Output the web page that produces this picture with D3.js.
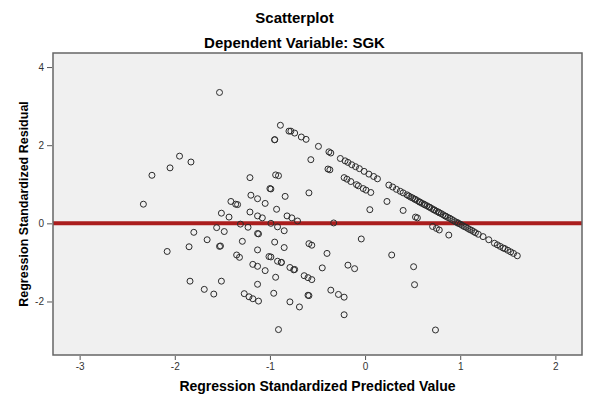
<!DOCTYPE html>
<html lang="en">
<head>
<meta charset="utf-8">
<title>Scatterplot</title>
<script src="https://cdn.jsdelivr.net/npm/d3@7"></script>
<style>
  body { margin: 0; background: #fff; }
  text { font-family: "Liberation Sans", Arial, sans-serif; }
</style>
</head>
<body>
<script>
// tick labels
var xTicks = [-3, -2, -1, 0, 1, 2];
var yTicks = [-2, 0, 2, 4];

// points lying on the upper diagonal band (predicted, residual)
var bandX = [-0.89, -0.80, -0.78, -0.74, -0.67, -0.62, -0.49, -0.38, -0.36, -0.26, -0.21, -0.18, -0.14, -0.10, -0.06, -0.01,
             0.04, 0.09, 0.13, 0.25, 0.29, 0.33, 0.37, 0.40, 0.44, 0.46, 0.48, 0.50, 0.52, 0.53, 0.55, 0.57, 0.58, 0.60,
             0.62, 0.63, 0.65, 0.67, 0.68, 0.70, 0.72, 0.73, 0.75, 0.77, 0.78, 0.80, 0.82, 0.84, 0.85, 0.87, 0.89, 0.91,
             0.93, 0.95, 0.97, 0.98, 1.00, 1.02, 1.04, 1.06, 1.08, 1.10, 1.12, 1.14, 1.16, 1.19, 1.24, 1.30, 1.36, 1.39,
             1.42, 1.45, 1.47, 1.50, 1.53, 1.56, 1.60];
var bandY = [2.51, 2.36, 2.36, 2.31, 2.21, 2.15, 1.97, 1.83, 1.80, 1.66, 1.60, 1.56, 1.50, 1.45, 1.40, 1.33,
             1.26, 1.20, 1.14, 0.98, 0.93, 0.87, 0.82, 0.78, 0.73, 0.70, 0.67, 0.65, 0.62, 0.61, 0.58, 0.55, 0.54, 0.51,
             0.49, 0.47, 0.45, 0.42, 0.41, 0.38, 0.35, 0.34, 0.31, 0.29, 0.27, 0.25, 0.22, 0.19, 0.18, 0.15, 0.13, 0.10,
             0.07, 0.04, 0.02, 0.00, -0.02, -0.05, -0.08, -0.10, -0.13, -0.16, -0.18, -0.21, -0.24, -0.28, -0.34, -0.42, -0.51, -0.55,
             -0.59, -0.63, -0.65, -0.69, -0.73, -0.77, -0.83];

// second, lower band
var lowX = [-0.95, -0.57, -0.39, -0.37, -0.22, -0.19, -0.15, -0.09, -0.07, -0.02, 0.01, 0.06, 0.23, 0.40, 0.53, 0.55, 0.71, 0.75, 0.78, 0.88];
var lowY = [2.14, 1.63, 1.39, 1.37, 1.17, 1.13, 1.07, 0.99, 0.96, 0.89, 0.85, 0.79, 0.56, 0.33, 0.16, 0.14, -0.08, -0.13, -0.17, -0.30];

// the remaining scattered points
var restX = [-1.53, -0.95, -1.95, -1.83, -2.05, -2.24, -2.33, -1.21, -0.94, -0.91, -1.00, -0.99, -0.84, -1.20, -1.13, -1.05,
             -1.41, -1.36, -1.34, -1.51, -1.43, -1.21, -1.13, -1.08, -0.93, -0.82, -0.77, -0.71, -1.31, -0.99, -0.33, 0.05,
             -0.59, -2.08, -1.85, -1.80, -1.66, -1.84, -1.69, -1.59, -1.51, -1.53, -1.52, -1.56, -1.48, -1.29, -1.23,
             -1.35, -1.32, -1.27, -1.22, -1.18, -1.12, -1.13, -1.13, -1.12, -1.13, -1.18, -1.13, -1.05, -0.99, -1.01,
             -0.95, -0.92, -0.88, -0.94, -0.96, -0.91, -0.92, -0.85, -0.85, -0.79, -0.75, -0.74, -0.79, -0.69, -0.64,
             -0.60, -0.56, -0.59, -0.60, -0.59, -0.56, -0.45, -0.40, -0.36, -0.28, -0.22, -0.22, -0.18, -0.11, -0.04,
             0.28, 0.51, 0.52, 0.74, -0.88];
var restY = [3.35, 2.14, 1.72, 1.57, 1.42, 1.23, 0.49, 1.17, 1.24, 1.22, 0.89, 0.88, 0.69, 0.72, 0.63, 0.51,
             0.56, 0.49, 0.48, 0.26, 0.16, 0.29, 0.19, 0.14, 0.36, 0.19, 0.14, 0.06, -0.02, 0.00, 0.01, 0.35,
             0.78, -0.72, -0.60, -0.23, -0.42, -1.48, -1.69, -1.81, -1.48, -0.59, -0.58, -0.11, -0.21, -0.46, -0.10,
             -0.81, -0.87, -1.80, -1.88, -1.93, -1.99, -1.56, -0.26, -0.27, -0.68, -1.05, -1.10, -1.21, -0.86, -0.85,
             -0.48, -0.97, -1.00, -1.38, -1.79, -2.72, -0.09, -0.19, -0.62, -1.13, -1.19, -1.18, -2.01, -2.14, -1.34,
             -1.39, -1.44, -1.85, -1.84, -0.52, -0.56, -1.14, -0.77, -1.71, -1.82, -1.89, -2.34, -1.07, -1.16, -0.40,
             -0.81, -1.11, -1.57, -2.73, -1.00];

var points = [];
bandX.forEach(function(d, i) { points.push([d, bandY[i]]); });
lowX.forEach(function(d, i) { points.push([d, lowY[i]]); });
restX.forEach(function(d, i) { points.push([d, restY[i]]); });

var W = 589, H = 404;
var plotLeft = 53, plotRight = 582, plotTop = 53, plotBottom = 355;

var svg = d3.select("body").append("svg")
    .attr("width", W)
    .attr("height", H);

var xscale = d3.scaleLinear().domain([-3.28, 2.28]).range([plotLeft, plotRight]);
var yscale = d3.scaleLinear().domain([-3.37, 4.36]).range([plotBottom, plotTop]);

// plot background
svg.append("rect")
    .attr("x", plotLeft).attr("y", plotTop)
    .attr("width", plotRight - plotLeft).attr("height", plotBottom - plotTop)
    .attr("fill", "#f0f0f0");

// reference line at 0
svg.append("line")
    .attr("x1", plotLeft).attr("x2", plotRight)
    .attr("y1", yscale(0)).attr("y2", yscale(0))
    .attr("stroke", "#aa1d1d")
    .attr("stroke-width", 4);

svg.append("g").selectAll("circle")
    .data(points)
    .enter()
    .append("circle")
    .attr("cx", function(d) { return xscale(d[0]); })
    .attr("cy", function(d) { return yscale(d[1]); })
    .attr("r", 3)
    .attr("fill", "none")
    .attr("stroke", "#2b2b2b")
    .attr("stroke-width", 1);

// frame
svg.append("rect")
    .attr("x", plotLeft).attr("y", plotTop)
    .attr("width", plotRight - plotLeft).attr("height", plotBottom - plotTop)
    .attr("fill", "none")
    .attr("stroke", "#666")
    .attr("stroke-width", 1.5);

var xAxis = d3.axisBottom(xscale).tickValues(xTicks).tickSize(4).tickPadding(3)
    .tickFormat(function(d) { return String(d); });
var yAxis = d3.axisLeft(yscale).tickValues(yTicks).tickSize(5).tickPadding(3)
    .tickFormat(function(d) { return String(d); });

var gx = svg.append("g")
    .attr("transform", "translate(0," + (plotBottom + 1) + ")")
    .call(xAxis);
var gy = svg.append("g")
    .attr("transform", "translate(" + (plotLeft - 1) + ",0)")
    .call(yAxis);

[gx, gy].forEach(function(g) {
    g.select(".domain").remove();
    g.selectAll(".tick line").attr("stroke", "#555");
    g.selectAll(".tick text")
        .attr("fill", "#333")
        .style("font-size", "10px")
        .style("font-family", "'Liberation Sans', Arial, sans-serif");
});

// titles
svg.append("text")
    .attr("x", W / 2).attr("y", 23)
    .attr("text-anchor", "middle")
    .style("font-size", "15px").style("font-weight", "bold")
    .text("Scatterplot");

svg.append("text")
    .attr("x", W / 2).attr("y", 48)
    .attr("text-anchor", "middle")
    .style("font-size", "15px").style("font-weight", "bold")
    .text("Dependent Variable: SGK");

svg.append("text")
    .attr("x", (plotLeft + plotRight) / 2).attr("y", 391)
    .attr("text-anchor", "middle")
    .style("font-size", "14px").style("font-weight", "bold")
    .text("Regression Standardized Predicted Value");

svg.append("text")
    .attr("transform", "translate(28," + ((plotTop + plotBottom) / 2) + ") rotate(-90)")
    .attr("text-anchor", "middle")
    .style("font-size", "12.5px").style("font-weight", "bold")
    .text("Regression Standardized Residual");
</script>
</body>
</html>
